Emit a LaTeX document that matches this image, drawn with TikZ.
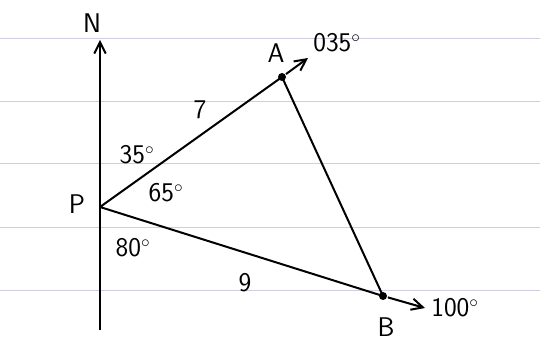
\documentclass[tikz,border=0pt]{standalone}
\usepackage{fontspec}
\usepackage{tikz}
\usetikzlibrary{arrows.meta}

\begin{document}
\begin{tikzpicture}[x=1pt, y=1pt, line width=2pt,
	every node/.style={font=\sffamily\fontsize{27}{30}\selectfont},
	>={Straight Barb[length=4mm, width=4mm]},
	paperline/.style={blue!30!gray!30, line width=0.8pt},
	ship/.style={fill, circle, inner sep=0pt, minimum size=8pt}]
	\useasboundingbox (0,0) rectangle (540,345);
	\fill[white] (0,0) rectangle (540,345);
	% ruled paper
	\foreach \yy in {307,244,182,118,55}
		\draw[paperline] (0,\yy) -- (540,\yy);
	% points
	\coordinate (P) at (100,138);
	\coordinate (Ntop) at (100,305);
	\coordinate (Nbot) at (100,15);
	\node[ship] (A) at (282,268) {};
	\node[ship] (B) at (383,49) {};
	\coordinate (Atip) at (308,287);
	\coordinate (Btip) at (425,37);
	% north line and courses
	\draw[->] (Nbot) -- (Ntop);
	\draw[line join=round] (P) -- (A.center) -- (B.center) -- cycle;
	\draw[->] (A) -- (Atip);
	\draw[->] (B) -- (Btip);
	% labels
	\node (lN) at (92,322) {N};
	\node (lP) at (77,141) {P};
	\node (lA) at (276,292) {A};
	\node (lB) at (386,18) {B};
	\node[anchor=west] (bA) at (309,302) {035$^{\circ}$};
	\node[anchor=west] (bB) at (427,37) {100$^{\circ}$};
	\node (d7) at (200,235) {7};
	\node (d9) at (245,62) {9};
	\node (a35) at (137,190) {35$^{\circ}$};
	\node (a65) at (166,152) {65$^{\circ}$};
	\node (a80) at (133,97) {80$^{\circ}$};
\end{tikzpicture}
\end{document}
